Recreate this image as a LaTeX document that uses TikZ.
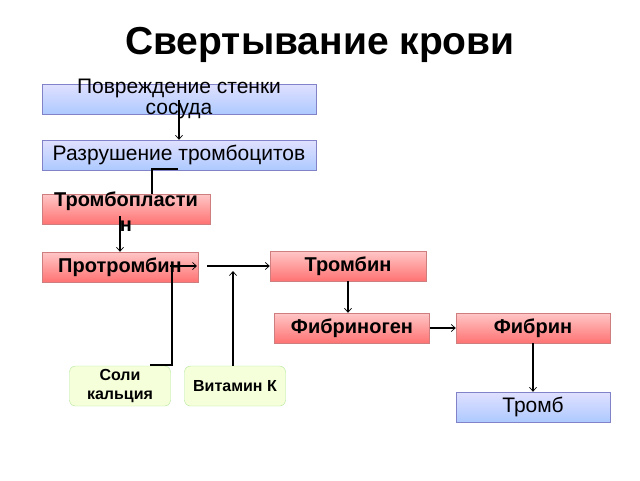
\documentclass[tikz,border=0pt]{standalone}
\usepackage{fontspec}
\setmainfont{Liberation Sans}
\usetikzlibrary{arrows.meta}
\begin{document}
\begin{tikzpicture}[x=1pt,y=-1pt,
  blue/.style={draw=blue!40!gray!70, top color=blue!12, bottom color=blue!35!cyan!20!white!85!blue, minimum height=30pt, inner sep=0},
  redb/.style={draw=red!45!gray!70, top color=red!22, bottom color=red!55!white, minimum height=30pt, inner sep=0},
  greenb/.style={draw=green!50!olive!40, fill=green!25!yellow!15, rounded corners=6pt, minimum height=40pt, minimum width=101pt, inner sep=0},
  txt/.style={font=\fontsize{21}{22}\selectfont, align=center},
  btxt/.style={font=\bfseries\fontsize{20}{25}\selectfont, align=center},
  conn/.style={draw=black, line width=1.1pt},
  arr/.style={conn, -{Straight Barb[length=4pt,width=7pt,line width=0.7pt]}}]
\useasboundingbox (0,0) rectangle (640,480);
\node[font=\bfseries\fontsize{39}{42}\selectfont] (title) at (320,45) {Свертывание крови};
\node[blue, minimum width=274pt] (pov) at (179,99) {};
\node[txt] (povt) at (179,99) {Повреждение стенки\\[-1pt]сосуда};
\node[blue, minimum width=274pt] (raz) at (179,155) {};
\node[txt] (razt) at (179,155) {Разрушение тромбоцитов};
\node[redb, minimum width=168pt] (trp) at (126,209) {};
\node[btxt] (trpt) at (126,212) {Тромбопласти\\н};
\node[redb, minimum width=156pt] (pro) at (120,267) {};
\node[btxt] (prot) at (120,267) {Протромбин};
\node[redb, minimum width=156pt] (trb) at (348,266) {};
\node[btxt] (trbt) at (348,266) {Тромбин};
\node[redb, minimum width=155pt] (fng) at (352,328) {};
\node[btxt] (fngt) at (352,328) {Фибриноген};
\node[redb, minimum width=154pt] (fbr) at (533,328) {};
\node[btxt] (fbrt) at (533,328) {Фибрин};
\node[blue, minimum width=154pt] (trm) at (533,407) {};
\node[txt] (trmt) at (533,407) {Тромб};
\node[greenb] (sol) at (120,386) {};
\node[font=\bfseries\fontsize{16}{20}\selectfont, align=center] (solt) at (120,386) {Соли\\кальция};
\node[greenb] (vit) at (235,386) {};
\node[font=\bfseries\fontsize{16}{20}\selectfont] (vitt) at (235,386) {Витамин К};
\coordinate (j1) at (197,266);
\coordinate (j2) at (207,266);
\draw[arr] (179,100) -- (raz.north -| 179,0);
\draw[conn] (178,169) -- (152,169) -- (trp.north -| 152,0);
\draw[arr] (120,216) -- (pro.north -| 120,0);
\draw[arr] (170,266) -- (j1);
\draw[arr] (j2) -- (trb.west);
\draw[conn] (172,266) -- (172,365) -- (150,365);
\draw[arr] (vit.north -| 233,0) -- (233,271);
\draw[arr] (trb.south) -- (fng.north -| trb.south);
\draw[arr] (fng.east) -- (fbr.west);
\draw[arr] (fbr.south) -- (trm.north);
\end{tikzpicture}
\end{document}
